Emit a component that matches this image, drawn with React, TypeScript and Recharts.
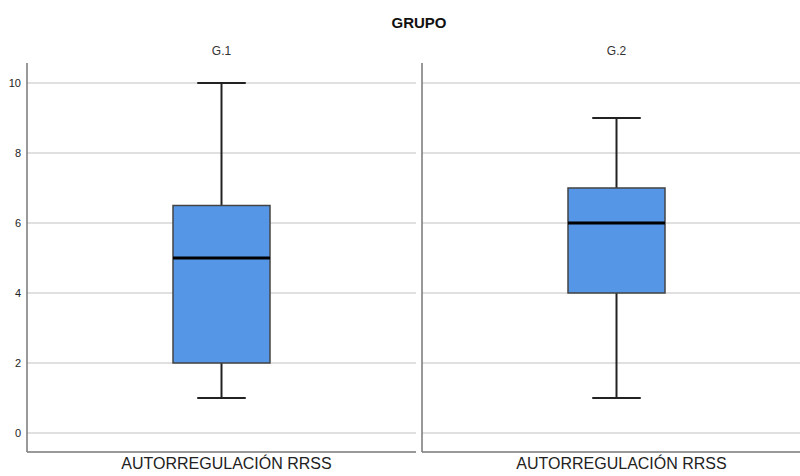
import { ComposedChart, Bar, XAxis, YAxis, ReferenceLine } from "recharts";

const groups = ["G.1", "G.2"];
const category = "AUTORREGULACIÓN RRSS";
const minVals = [1, 1];
const q1Vals = [2, 4];
const medianVals = [5, 6];
const q3Vals = [6.5, 7];
const maxVals = [10, 9];
const yTicks = [0, 2, 4, 6, 8, 10];

const FONT = "'Liberation Sans', Arial, sans-serif";
const DOMAIN: [number, number] = [-0.543, 10.571];

// draws whiskers, box and median inside the [min, max] range bar
const BoxShape = (props: any) => {
    const { x, y, width, height, payload } = props;
    const span = payload.max - payload.min;
    const toY = (v: number) => y + ((payload.max - v) / span) * height;
    const cx = x + width / 2;
    const capW = width / 2;
    const yMax = toY(payload.max);
    const yMin = toY(payload.min);
    const yQ1 = toY(payload.q1);
    const yQ3 = toY(payload.q3);
    const yMed = toY(payload.median);
    return (
        <g>
            <line x1={cx} x2={cx} y1={yMax} y2={yQ3} stroke="#222" strokeWidth={2} />
            <line x1={cx} x2={cx} y1={yQ1} y2={yMin} stroke="#222" strokeWidth={2} />
            <line x1={cx - capW / 2} x2={cx + capW / 2} y1={yMax} y2={yMax} stroke="#222" strokeWidth={2} />
            <line x1={cx - capW / 2} x2={cx + capW / 2} y1={yMin} y2={yMin} stroke="#222" strokeWidth={2} />
            <rect x={x} y={yQ3} width={width} height={yQ1 - yQ3} fill="#5596E6" stroke="#444" strokeWidth={1.5} />
            <line x1={x} x2={x + width} y1={yMed} y2={yMed} stroke="#000" strokeWidth={3} />
        </g>
    );
};

function Panel({ idx, left }: { idx: number; left: number }) {
    const data = [
        {
            name: category,
            min: minVals[idx],
            q1: q1Vals[idx],
            median: medianVals[idx],
            q3: q3Vals[idx],
            max: maxVals[idx],
            range: [minVals[idx], maxVals[idx]],
        },
    ];
    const margin = { top: 63, right: 0, bottom: 0, left: 0 };
    return (
        <div style={{ position: "absolute", left, top: 0, width: 416, height: 476 }}>
            {/* back layer: axes + gridlines */}
            <div style={{ position: "absolute", left: 0, top: 0 }}>
                <ComposedChart width={416} height={476} data={data} margin={margin}>
                    {yTicks.map((t) => (
                        <ReferenceLine key={t} y={t} stroke="#d6d6d6" strokeWidth={1.5} />
                    ))}
                    <XAxis
                        dataKey="name"
                        height={24}
                        axisLine={{ stroke: "#777", strokeWidth: 1.5 }}
                        tickLine={false}
                        tick={{ fill: "#222", fontSize: 16, fontFamily: FONT, dx: 5 }}
                        tickMargin={0}
                    />
                    <YAxis
                        width={27}
                        domain={DOMAIN}
                        ticks={yTicks}
                        allowDataOverflow
                        axisLine={{ stroke: "#777", strokeWidth: 1.5 }}
                        tickLine={false}
                        tick={idx === 0 ? { fill: "#222", fontSize: 11, fontFamily: FONT } : false}
                        tickMargin={0}
                    />
                </ComposedChart>
            </div>
            {/* front layer: box plot */}
            <div style={{ position: "absolute", left: 0, top: 0 }}>
                <ComposedChart width={416} height={476} data={data} margin={margin}>
                    <XAxis dataKey="name" height={24} axisLine={false} tickLine={false} tick={false} />
                    <YAxis
                        width={27}
                        domain={DOMAIN}
                        ticks={yTicks}
                        allowDataOverflow
                        axisLine={false}
                        tickLine={false}
                        tick={false}
                    />
                    <Bar
                        dataKey="range"
                        barSize={97}
                        shape={BoxShape}
                        isAnimationActive={false}
                    />
                </ComposedChart>
            </div>
            <div
                style={{
                    position: "absolute",
                    left: 27,
                    width: 389,
                    top: 44,
                    textAlign: "center",
                    fontFamily: FONT,
                    fontSize: 12,
                    color: "#333",
                }}
            >
                {groups[idx]}
            </div>
        </div>
    );
}

export default function App() {
    return (
        <div
            style={{
                position: "absolute",
                left: 0,
                top: 0,
                width: 800,
                height: 476,
                overflow: "hidden",
                background: "#fff",
            }}
        >
            <div
                style={{
                    position: "absolute",
                    left: 0,
                    width: 838,
                    top: 14,
                    textAlign: "center",
                    fontFamily: FONT,
                    fontSize: 15,
                    fontWeight: "bold",
                    color: "#111",
                }}
            >
                GRUPO
            </div>
            <Panel idx={0} left={0} />
            <Panel idx={1} left={395} />
        </div>
    );
}
